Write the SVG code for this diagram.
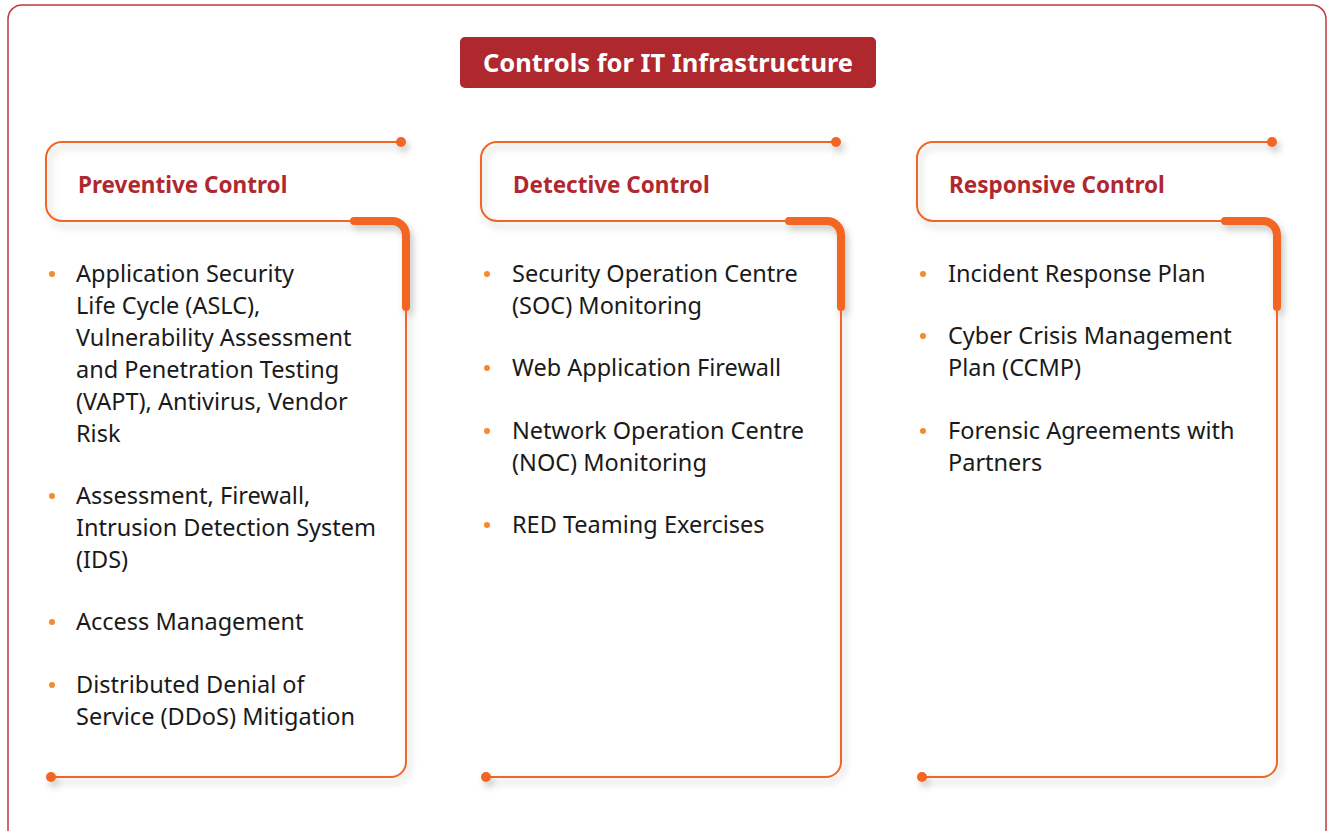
<svg xmlns="http://www.w3.org/2000/svg" width="1333" height="831" viewBox="0 0 1333 831">
<defs>
<filter id="sh" x="-10%" y="-10%" width="120%" height="120%">
<feDropShadow dx="3" dy="5" stdDeviation="3.5" flood-color="#000" flood-opacity="0.22"/>
</filter>
<style>
.thin{fill:none;stroke:#f26522;stroke-width:2}
.thick{fill:none;stroke:#f26522;stroke-width:8;stroke-linecap:round}
.dot{fill:#f26522}
.bul{fill:#f58a2e}
.hd{font-family:"Noto Sans","Liberation Sans",sans-serif;font-weight:700;font-size:22.5px;fill:#b0282f}
.tx{font-family:"Noto Sans","Liberation Sans",sans-serif;font-size:23.5px;fill:#1a1a1a}
.ttl{font-family:"Noto Sans","Liberation Sans",sans-serif;font-weight:700;font-size:25.5px;fill:#fff}
</style>
<g id="card">
<g filter="url(#sh)">
<path class="thin" d="M401,142 H62 A16,16 0 0 0 46,158 V205 A16,16 0 0 0 62,221 H392 A14,14 0 0 1 406,235 V762 A15,15 0 0 1 391,777 H52"/>
<path class="thick" d="M354,221 H392 A14,14 0 0 1 406,235 V307"/>
<circle class="dot" cx="401" cy="142" r="5"/>
<circle class="dot" cx="51" cy="777" r="5"/>
</g>
</g>
</defs>
<rect x="8" y="5" width="1318" height="850" rx="14" fill="#fff" stroke="#c0393f" stroke-width="1.5"/>
<g id="title">
<rect x="460" y="37" width="416" height="51" rx="5" fill="#ae282e"/>
<text class="ttl" x="668" y="72" text-anchor="middle">Controls for IT Infrastructure</text>
</g>
<g id="preventive">
<use href="#card"/>
<text class="hd" x="78" y="193">Preventive Control</text>
<circle class="bul" cx="52" cy="274" r="3"/>
<circle class="bul" cx="52" cy="496" r="3"/>
<circle class="bul" cx="52" cy="622" r="3"/>
<circle class="bul" cx="52" cy="685" r="3"/>
<text class="tx" x="76" y="282">Application Security</text>
<text class="tx" x="76" y="314">Life Cycle (ASLC),</text>
<text class="tx" x="76" y="346">Vulnerability Assessment</text>
<text class="tx" x="76" y="378">and Penetration Testing</text>
<text class="tx" x="76" y="410">(VAPT), Antivirus, Vendor</text>
<text class="tx" x="76" y="442">Risk</text>
<text class="tx" x="76" y="504">Assessment, Firewall,</text>
<text class="tx" x="76" y="536">Intrusion Detection System</text>
<text class="tx" x="76" y="568">(IDS)</text>
<text class="tx" x="76" y="630">Access Management</text>
<text class="tx" x="76" y="693">Distributed Denial of</text>
<text class="tx" x="76" y="725">Service (DDoS) Mitigation</text>
</g>
<g id="detective">
<use href="#card" x="435"/>
<text class="hd" x="513" y="193">Detective Control</text>
<circle class="bul" cx="487" cy="274" r="3"/>
<circle class="bul" cx="487" cy="368" r="3"/>
<circle class="bul" cx="487" cy="431" r="3"/>
<circle class="bul" cx="487" cy="525" r="3"/>
<text class="tx" x="512" y="282">Security Operation Centre</text>
<text class="tx" x="512" y="314">(SOC) Monitoring</text>
<text class="tx" x="512" y="376">Web Application Firewall</text>
<text class="tx" x="512" y="439">Network Operation Centre</text>
<text class="tx" x="512" y="471">(NOC) Monitoring</text>
<text class="tx" x="512" y="533">RED Teaming Exercises</text>
</g>
<g id="responsive">
<use href="#card" x="871"/>
<text class="hd" x="949" y="193">Responsive Control</text>
<circle class="bul" cx="923" cy="274" r="3"/>
<circle class="bul" cx="923" cy="336" r="3"/>
<circle class="bul" cx="923" cy="431" r="3"/>
<text class="tx" x="948" y="282">Incident Response Plan</text>
<text class="tx" x="948" y="344">Cyber Crisis Management</text>
<text class="tx" x="948" y="376">Plan (CCMP)</text>
<text class="tx" x="948" y="439">Forensic Agreements with</text>
<text class="tx" x="948" y="471">Partners</text>
</g>
</svg>
